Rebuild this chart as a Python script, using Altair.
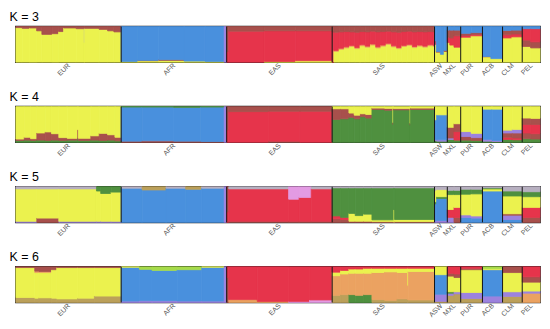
import altair as alt
import pandas as pd

# ---------------- data ----------------
POPS = ["EUR", "AFR", "EAS", "SAS", "ASW", "MXL", "PUR", "ACB", "CLM", "PEL"]
SIZES = [503, 504, 504, 489, 61, 64, 104, 96, 94, 85]

COLOR_KEYS = ["Y", "B", "R", "M", "G", "P", "K", "O", "T", "L", "V"]
COLOR_VALUES = ["#EBF24E", "#4990DD", "#E6344B", "#A8504C", "#4F903F", "#9C82DE",
                "#E39BE3", "#EBA261", "#BBA05A", "#B7AFC0", "#A6DB4A"]

# blocks: (population, number of samples, ancestry fractions bottom -> top)
K3 = [
    ("EUR", 30, "Y.97 M.03"), ("EUR", 35, "Y.95 M.05"), ("EUR", 34, "Y.96 M.04"),
    ("EUR", 25, "Y.88 M.12"), ("EUR", 50, "Y.78 M.22"), ("EUR", 30, "Y.80 M.20"),
    ("EUR", 24, "Y.86 M.14"), ("EUR", 60, "Y.96 M.04"), ("EUR", 39, "Y.94 M.06"),
    ("EUR", 1, "Y.55 L.40 M.05"), ("EUR", 70, "Y.95 M.05"), ("EUR", 40, "Y.92 M.08"),
    ("EUR", 30, "Y.88 M.12"), ("EUR", 35, "Y.85 M.15"),
    ("AFR", 80, "Y.02 B.98"), ("AFR", 100, "Y.04 M.01 B.95"), ("AFR", 120, "Y.05 M.02 B.93"),
    ("AFR", 100, "Y.03 B.97"), ("AFR", 92, "Y.02 B.98"), ("AFR", 12, "P1"),
    ("EAS", 10, "R.30 M.70"), ("EAS", 170, "R.87 M.13"), ("EAS", 150, "Y.02 R.86 M.12"),
    ("EAS", 174, "Y.04 R.84 M.12"),
    ("SAS", 8, "R.85 M.15"),
    ("SAS", 25, "Y.30 O.03 R.51 M.16"), ("SAS", 25, "Y.36 O.03 R.46 M.15"),
    ("SAS", 25, "Y.40 O.03 R.43 M.14"), ("SAS", 25, "Y.44 O.03 R.38 M.15"),
    ("SAS", 25, "Y.38 O.03 R.43 M.16"), ("SAS", 25, "Y.46 O.03 R.37 M.14"),
    ("SAS", 25, "Y.42 O.03 R.40 M.15"), ("SAS", 25, "Y.48 O.03 R.36 M.13"),
    ("SAS", 25, "Y.40 O.03 R.42 M.15"), ("SAS", 25, "Y.45 O.03 R.38 M.14"),
    ("SAS", 25, "Y.50 O.03 R.34 M.13"), ("SAS", 25, "Y.43 O.03 R.39 M.15"),
    ("SAS", 25, "Y.38 O.03 R.43 M.16"), ("SAS", 25, "Y.44 O.03 R.39 M.14"),
    ("SAS", 25, "Y.47 O.03 R.37 M.13"), ("SAS", 25, "Y.41 O.03 R.41 M.15"),
    ("SAS", 25, "Y.45 O.03 R.38 M.14"), ("SAS", 25, "Y.42 O.03 R.40 M.15"),
    ("SAS", 25, "Y.46 O.03 R.37 M.14"), ("SAS", 6, "Y.44 O.03 R.38 M.15"),
    ("ASW", 8, "Y.50 R.05 M.05 B.40"), ("ASW", 20, "Y.28 M.02 B.70"),
    ("ASW", 18, "Y.22 B.78"), ("ASW", 15, "Y.30 M.03 B.67"),
    ("MXL", 12, "Y.55 R.15 M.20 B.10"), ("MXL", 20, "Y.48 R.20 M.22 B.10"),
    ("MXL", 32, "Y.42 R.32 M.16 B.10"),
    ("PUR", 50, "Y.70 R.05 M.06 B.19"), ("PUR", 54, "Y.74 R.04 M.05 B.17"),
    ("ACB", 40, "Y.15 M.01 B.84"), ("ACB", 56, "Y.10 B.90"),
    ("CLM", 45, "Y.68 R.09 M.12 B.11"), ("CLM", 49, "Y.71 R.08 M.11 B.10"),
    ("PEL", 40, "Y.44 M.18 R.32 B.06"), ("PEL", 45, "Y.40 M.17 R.37 B.06"),
]

K4 = [
    ("EUR", 40, "G.05 M.04 Y.91"), ("EUR", 30, "G.06 M.08 Y.86"), ("EUR", 30, "G.05 M.05 Y.90"),
    ("EUR", 40, "G.06 M.20 Y.74"), ("EUR", 30, "G.05 M.24 Y.71"), ("EUR", 35, "G.06 M.18 Y.76"),
    ("EUR", 40, "G.05 M.08 Y.87"), ("EUR", 50, "G.06 M.05 Y.89"), ("EUR", 3, "G.10 M.25 Y.65"),
    ("EUR", 60, "G.05 M.06 Y.89"), ("EUR", 40, "G.06 M.12 Y.82"), ("EUR", 40, "G.05 M.20 Y.75"),
    ("EUR", 35, "G.06 M.15 Y.79"), ("EUR", 30, "G.04 M.10 Y.86"),
    ("AFR", 100, "M.03 B.96 G.01"), ("AFR", 150, "M.04 B.95 G.01"), ("AFR", 130, "M.03 B.95 G.02"),
    ("AFR", 112, "M.02 B.97 G.01"), ("AFR", 12, "P1"),
    ("EAS", 10, "R.35 M.65"), ("EAS", 190, "R.86 M.14"), ("EAS", 150, "M.03 R.84 M.13"),
    ("EAS", 154, "R.87 M.13"),
    ("SAS", 40, "G.64 M.30 Y.06"), ("SAS", 40, "G.66 M.28 Y.06"), ("SAS", 25, "G.70 M.12 Y.18"),
    ("SAS", 30, "G.66 M.10 Y.24"), ("SAS", 25, "G.72 M.08 Y.20"), ("SAS", 30, "G.68 M.10 Y.22"),
    ("SAS", 60, "G.92 M.04 Y.04"), ("SAS", 40, "G.90 M.05 Y.05"), ("SAS", 2, "G.50 M.05 Y.45"),
    ("SAS", 80, "G.91 M.04 Y.05"), ("SAS", 2, "G.48 M.05 Y.47"), ("SAS", 115, "G.92 M.04 Y.04"),
    ("ASW", 10, "G.05 P.03 B.55 Y.37"), ("ASW", 51, "G.03 P.04 B.70 Y.23"),
    ("MXL", 32, "G.08 P.04 M.30 Y.58"), ("MXL", 32, "G.06 R.24 M.22 Y.48"),
    ("PUR", 50, "G.06 M.10 P.14 Y.70"), ("PUR", 54, "G.05 M.08 P.12 Y.75"),
    ("ACB", 46, "G.03 P.05 B.85 Y.07"), ("ACB", 50, "G.02 P.03 B.88 Y.07"),
    ("CLM", 47, "G.08 R.06 M.12 P.08 Y.66"), ("CLM", 47, "G.07 R.05 M.14 P.10 Y.64"),
    ("PEL", 40, "G.10 M.16 R.24 M.18 Y.32"), ("PEL", 45, "G.09 M.15 R.26 M.17 Y.33"),
]

K5 = [
    ("EUR", 100, "P.03 Y.91 L.06"), ("EUR", 105, "M.12 Y.82 L.06"), ("EUR", 180, "P.03 Y.91 L.06"),
    ("EUR", 20, "P.03 Y.85 G.12"), ("EUR", 50, "P.03 Y.78 G.19"), ("EUR", 48, "P.03 Y.82 G.15"),
    ("AFR", 100, "B.96 L.04"), ("AFR", 114, "B.91 T.09"), ("AFR", 94, "B.96 L.04"),
    ("AFR", 76, "B.93 T.07"), ("AFR", 108, "B.96 L.04"), ("AFR", 12, "P1"),
    ("EAS", 10, "R.30 M.70"), ("EAS", 286, "M.03 R.91 L.06"), ("EAS", 50, "M.03 R.62 K.35"),
    ("EAS", 58, "M.03 R.67 K.30"), ("EAS", 100, "M.03 R.91 L.06"),
    ("SAS", 40, "M.10 R.08 G.79 L.03"), ("SAS", 40, "M.08 R.06 G.83 L.03"),
    ("SAS", 30, "M.03 Y.22 G.72 L.03"), ("SAS", 40, "M.03 Y.16 G.78 L.03"),
    ("SAS", 40, "M.03 Y.20 G.74 L.03"), ("SAS", 105, "M.02 Y.05 G.90 L.03"),
    ("SAS", 3, "Y.35 G.62 L.03"), ("SAS", 191, "M.02 Y.06 G.89 L.03"),
    ("ASW", 10, "P.04 B.48 G.06 Y.32 L.10"), ("ASW", 51, "P.05 B.62 G.05 Y.20 L.08"),
    ("MXL", 32, "P.14 R.22 Y.42 G.12 L.10"), ("MXL", 32, "M.14 R.28 Y.36 G.12 L.10"),
    ("PUR", 50, "B.14 P.07 Y.58 G.14 L.07"), ("PUR", 54, "B.12 P.06 Y.62 G.13 L.07"),
    ("ACB", 96, "B.88 Y.06 G.03 L.03"),
    ("CLM", 94, "B.08 P.12 M.04 Y.50 G.14 L.12"),
    ("PEL", 85, "M.14 R.28 Y.30 G.14 L.14"),
]

K6 = [
    ("EUR", 90, "T.14 Y.84 M.02"), ("EUR", 20, "T.12 Y.72 O.04 M.12"), ("EUR", 60, "T.13 Y.71 O.03 M.13"),
    ("EUR", 25, "T.12 Y.80 M.08"), ("EUR", 100, "T.10 Y.88 M.02"), ("EUR", 80, "T.12 Y.86 M.02"),
    ("EUR", 128, "T.18 Y.80 M.02"),
    ("AFR", 87, "P.04 B.95 Y.01"), ("AFR", 60, "P.05 B.88 V.07"), ("AFR", 120, "P.05 B.85 V.10"),
    ("AFR", 118, "P.04 B.88 V.08"), ("AFR", 107, "P.04 B.95 Y.01"), ("AFR", 12, "P1"),
    ("EAS", 10, "M.70 R.30"), ("EAS", 136, "O.08 R.92"), ("EAS", 150, "O.03 R.97"),
    ("EAS", 100, "K.03 R.97"), ("EAS", 108, "K.07 R.93"),
    ("SAS", 40, "T.20 O.55 Y.10 R.15"), ("SAS", 40, "T.22 O.58 Y.10 R.10"),
    ("SAS", 30, "G.22 O.60 Y.12 R.06"), ("SAS", 40, "G.20 O.62 Y.12 R.06"),
    ("SAS", 40, "G.22 O.60 Y.14 R.04"), ("SAS", 60, "T.08 O.76 Y.12 R.04"),
    ("SAS", 60, "T.06 O.80 Y.10 R.04"), ("SAS", 50, "T.10 O.74 Y.12 R.04"),
    ("SAS", 3, "T.08 O.40 Y.48 R.04"), ("SAS", 126, "T.07 O.80 Y.09 R.04"),
    ("ASW", 61, "T.03 P.20 B.55 Y.22"),
    ("MXL", 32, "T.20 P.06 G.04 Y.44 M.08 R.18"), ("MXL", 32, "T.24 P.06 Y.40 M.10 R.20"),
    ("PUR", 104, "T.11 P.17 Y.64 M.04 R.04"),
    ("ACB", 96, "P.18 B.74 Y.03 V.05"),
    ("CLM", 94, "T.17 P.13 Y.54 M.16"),
    ("PEL", 85, "O.26 P.06 Y.25 M.15 R.28"),
]

PANELS = [("K = 3", K3), ("K = 4", K4), ("K = 5", K5), ("K = 6", K6)]

# ---------------- build tables ----------------
starts = {}
acc = 0
for p, s in zip(POPS, SIZES):
    starts[p] = acc
    acc += s
TOTAL = acc
bounds = pd.DataFrame({"b": [starts[p] for p in POPS[1:]]})
centers = [starts[p] + s / 2 for p, s in zip(POPS, SIZES)]

label_expr = ""
for p in POPS[:-1]:
    label_expr += f"datum.value < {starts[p] + SIZES[POPS.index(p)]} ? '{p}' : "
label_expr += f"'{POPS[-1]}'"


def parse(segs):
    out = []
    for tok in segs.split():
        out.append((tok[0], float(tok[1:])))
    return out


def build(blocks):
    rows = []
    pop_tot = {}
    for p, n, _ in blocks:
        pop_tot[p] = pop_tot.get(p, 0) + n
    cur = {p: 0 for p in POPS}
    for p, n, segs in blocks:
        scale = SIZES[POPS.index(p)] / pop_tot[p]
        x0 = starts[p] + cur[p] * scale
        cur[p] += n
        x1 = starts[p] + cur[p] * scale
        parts = parse(segs)
        tot = sum(v for _, v in parts)
        y = 0.0
        for c, v in parts:
            f = v / tot
            rows.append({"x0": x0, "x1": x1, "y0": y, "y1": y + f, "c": c})
            y += f
    return pd.DataFrame(rows)


color_scale = alt.Scale(domain=COLOR_KEYS, range=COLOR_VALUES)
x_scale = alt.Scale(domain=[0, TOTAL], nice=False, zero=False)

charts = []
for title, blocks in PANELS:
    df = build(blocks)
    bars = alt.Chart(df).mark_rect(strokeWidth=0.8).encode(
        x=alt.X("x0:Q", scale=x_scale,
                axis=alt.Axis(values=centers, labelExpr=label_expr, labelAngle=-45,
                              labelAlign="right", labelBaseline="middle", labelFontSize=7,
                              labelFont="Liberation Sans", labelColor="#555555",
                              labelPadding=2, ticks=False, domain=False, grid=False,
                              labelOverlap=False, labelFlush=False, labelBound=False,
                              title=None)),
        x2="x1:Q",
        y=alt.Y("y0:Q", scale=alt.Scale(domain=[0, 1], nice=False), axis=None),
        y2="y1:Q",
        color=alt.Color("c:N", scale=color_scale, legend=None),
        stroke=alt.Stroke("c:N", scale=color_scale, legend=None),
    )
    seps = alt.Chart(bounds).mark_rule(color="#151515", strokeWidth=1).encode(
        x=alt.X("b:Q", scale=x_scale)
    )
    panel = alt.layer(bars, seps).properties(
        width=530, height=36,
        title=alt.TitleParams(title, anchor="start", fontSize=12.5, fontWeight="normal",
                              font="Liberation Sans", color="#000000", dx=-6, offset=3),
    )
    charts.append(panel)

chart = alt.vconcat(*charts, spacing=11).properties(
    padding={"left": 0, "top": 0, "right": 0, "bottom": 0}
).configure_view(stroke="#1a1a1a", strokeWidth=1.6)

chart.save("out.html", embed_options={"renderer": "svg", "actions": False})
